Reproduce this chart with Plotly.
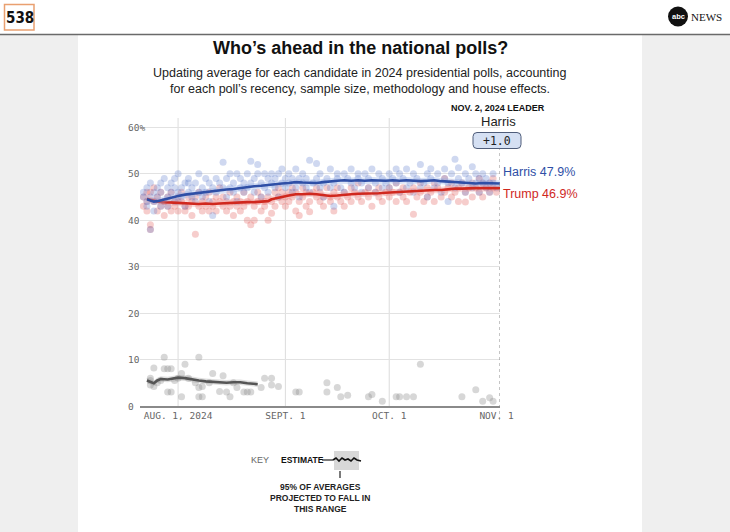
import pandas as pd
import plotly.graph_objects as go

# ---------------- data ----------------
# day offsets are days relative to Aug. 1, 2024
harris_avg = [(-9, 44.5), (-8, 44.2), (-7, 44.0), (-6, 44.1), (-5, 44.3), (-3, 44.6), (-1, 45.0), (0, 45.2),
              (2, 45.5), (4, 45.7), (6, 45.9), (8, 46.0), (10, 46.2), (12, 46.4), (14, 46.6), (16, 46.7),
              (18, 46.9), (20, 47.2), (22, 47.3), (24, 47.4), (26, 47.6), (28, 47.8), (30, 47.9), (32, 48.0),
              (34, 48.2), (36, 48.1), (38, 48.0), (40, 48.0), (42, 48.2), (44, 48.4), (46, 48.5), (48, 48.6),
              (50, 48.5), (52, 48.6), (54, 48.5), (56, 48.6), (58, 48.5), (60, 48.5), (62, 48.6), (64, 48.5),
              (66, 48.6), (68, 48.5), (70, 48.4), (72, 48.5), (74, 48.6), (76, 48.4), (78, 48.3), (80, 48.1),
              (82, 48.0), (84, 48.0), (86, 47.9), (88, 48.0), (90, 47.9), (93, 47.9)]
trump_avg = [(-9, 44.6), (-8, 44.4), (-7, 44.2), (-6, 44.0), (-4, 43.9), (-2, 43.8), (0, 43.7), (2, 43.6),
             (4, 43.6), (6, 43.5), (8, 43.6), (10, 43.5), (12, 43.6), (14, 43.7), (16, 43.8), (18, 43.8),
             (20, 43.9), (22, 43.9), (24, 44.0), (26, 44.1), (27, 44.5), (28, 44.7), (30, 45.0), (32, 45.3),
             (34, 45.6), (36, 45.6), (38, 45.7), (40, 45.6), (42, 45.4), (44, 45.2), (46, 45.3), (48, 45.5),
             (50, 45.6), (52, 45.7), (54, 45.7), (56, 45.8), (58, 45.8), (60, 45.9), (62, 46.0), (64, 46.0),
             (66, 46.1), (68, 46.2), (70, 46.3), (72, 46.4), (74, 46.5), (76, 46.5), (78, 46.7), (80, 46.8),
             (82, 46.8), (84, 46.9), (86, 46.9), (88, 46.9), (90, 46.9), (93, 46.9)]
rfk_avg = [(-9, 5.5), (-8, 5.2), (-7, 4.9), (-6, 5.5), (-5, 5.8), (-3, 5.7), (-1, 5.9), (0, 6.1), (2, 6.0),
           (4, 5.7), (6, 5.5), (8, 5.3), (10, 5.2), (12, 5.1), (14, 5.0), (16, 5.1), (18, 5.1), (20, 4.9),
           (22, 4.8), (23, 4.7)]

harris_polls = [(-10, 45), (-10, 46), (-9, 44), (-9, 47), (-9, 43), (-8, 45), (-8, 38), (-8, 48), (-7, 46), (-7, 44),
                (-7, 42), (-6, 47), (-6, 45), (-5, 43), (-5, 48), (-5, 46), (-4, 44), (-4, 49), (-3, 45), (-3, 47),
                (-3, 43), (-2, 48), (-2, 46), (-1, 44), (-1, 47), (-1, 49),
                (0, 50), (0, 46), (0, 44), (1, 47), (1, 45), (2, 48), (2, 43), (3, 48), (3, 46), (3, 49), (4, 45),
                (4, 47), (5, 48), (5, 44), (6, 50), (6, 46), (7, 47), (7, 45), (8, 49), (8, 46), (9, 44), (9, 48),
                (10, 41), (10, 47), (11, 49), (11, 46), (12, 48), (13, 52.5), (13, 47), (14, 45), (14, 49), (15, 50),
                (15, 47), (16, 46), (16, 48), (17, 50), (17, 44), (18, 49), (18, 47), (19, 48), (19, 46), (20, 50),
                (20, 47), (21, 52.7), (21, 48), (22, 49), (22, 46), (23, 52), (23, 50), (24, 48), (24, 45), (25, 50),
                (25, 47), (26, 49), (26, 46), (27, 48), (27, 50), (28, 47), (28, 49), (29, 45), (29, 50), (30, 48),
                (30, 51), (31, 47), (31, 49),
                (32, 48), (32, 50), (33, 46), (33, 49), (34, 51), (34, 47), (35, 49), (35, 45), (36, 48), (36, 50),
                (37, 47), (37, 49), (38, 52.9), (38, 46), (39, 48), (40, 52.2), (40, 49), (41, 47), (41, 50),
                (42, 45), (42, 48), (43, 49), (44, 51), (44, 47), (45, 43), (45, 48), (46, 50), (46, 49), (47, 47),
                (48, 50), (48, 46), (49, 49), (50, 48), (50, 51), (51, 47), (52, 49), (52, 50), (53, 46), (53, 48),
                (54, 50), (55, 49), (55, 47), (56, 51), (57, 48), (57, 46), (58, 50), (59, 49), (59, 47), (60, 48),
                (61, 50), (61, 47), (62, 49), (63, 51), (63, 48), (64, 46), (64, 50), (65, 49), (66, 47), (66, 51),
                (67, 48), (68, 50), (68, 46), (69, 49), (70, 47), (70, 52), (71, 48), (72, 50), (72, 45), (73, 49),
                (73, 51.1), (74, 47), (75, 48), (75, 50), (76, 46), (77, 49), (77, 51), (78, 44), (78, 48), (79, 50),
                (80, 53.1), (80, 47), (81, 49), (81, 51.3), (82, 48), (83, 46), (83, 50), (84, 49), (85, 51.5),
                (85, 47), (86, 48), (86, 50), (87, 46), (87, 49), (88, 48), (88, 50), (89, 47), (89, 49), (90, 48),
                (90, 46), (91, 50), (91, 48), (92, 47)]
trump_polls = [(-10, 45), (-10, 43), (-9, 46), (-9, 44), (-9, 42), (-8, 39), (-8, 38), (-8, 46), (-7, 44), (-7, 47),
               (-6, 42), (-6, 45), (-5, 43), (-5, 46), (-4, 44), (-4, 41), (-3, 45), (-3, 43), (-2, 42), (-2, 46),
               (-1, 44), (-1, 43),
               (0, 42), (0, 45), (1, 44), (1, 46), (2, 43), (2, 42), (3, 45), (3, 43), (4, 44), (4, 41), (5, 37),
               (5, 45), (6, 43), (6, 46), (7, 42), (7, 44), (8, 45), (8, 43), (9, 42), (9, 46), (10, 44), (10, 43),
               (11, 45), (11, 42), (12, 44), (12, 47), (13, 43), (13, 45), (14, 42), (14, 44), (15, 46), (15, 43),
               (16, 44), (16, 41), (17, 45), (17, 43), (18, 44), (18, 42), (19, 46), (19, 43), (20, 44), (20, 40),
               (21, 39), (21, 45), (22, 40), (22, 43), (23, 44), (23, 46), (24, 42), (24, 45), (25, 44), (25, 43),
               (26, 40), (26, 45), (27, 41.5), (27, 44), (28, 46), (28, 43), (29, 45), (29, 47), (30, 44), (30, 46),
               (31, 45), (31, 43),
               (32, 46), (32, 44), (33, 45), (33, 47), (34, 42), (34, 46), (35, 44), (35, 41), (36, 45), (36, 47),
               (37, 43), (37, 46), (38, 44), (38, 41.8), (39, 46), (40, 45), (40, 47), (41, 44), (41, 46), (42, 45),
               (42, 43), (43, 47), (44, 45), (44, 44), (45, 46), (45, 42), (46, 45), (46, 47), (47, 44), (48, 46),
               (48, 43), (49, 45), (50, 47), (50, 44), (51, 46), (52, 45), (52, 48), (53, 44), (54, 46), (55, 45),
               (55, 47), (56, 43), (57, 46), (58, 45), (58, 47), (59, 44), (60, 46),
               (61, 47), (61, 45), (62, 46), (63, 44), (63, 48), (64, 46), (65, 45), (65, 47), (66, 44), (67, 46),
               (68, 41.3), (68, 47), (69, 45), (70, 46), (70, 48), (71, 44), (72, 47), (72, 45), (73, 46), (74, 48),
               (74, 44), (75, 47), (76, 45), (77, 46), (77, 49), (78, 47), (79, 45), (79, 48), (80, 46), (81, 47),
               (81, 44), (82, 48), (83, 46), (83, 43.9), (84, 47), (85, 45), (85, 48), (86, 47), (87, 46), (87, 49),
               (88, 48), (88, 45), (89, 47), (90, 46), (90, 48), (91, 47), (91, 49), (92, 46)]
rfk_polls = [(-8, 5.5), (-8, 6), (-8, 4.5), (-7, 4.2), (-7, 8.2), (-6, 5), (-5, 5.5), (-4, 10.5), (-4, 8),
             (-3, 8), (-3, 3), (-2, 8), (-2, 3), (-1, 5.5), (0, 6), (1, 7), (1, 2), (2, 9), (3, 6), (5, 5),
             (6, 10.5), (6, 2), (7, 2), (6, 4), (7, 4.2), (9, 5), (10, 7), (12, 3.1), (13, 6.5), (14, 3), (15, 2),
             (16, 5), (17, 4), (19, 3), (20, 3), (21, 3), (24, 4), (25, 6), (27, 6), (27, 4.5), (29, 4.2),
             (34, 3), (35, 3), (43, 5), (43, 3), (46, 4), (47, 2), (49, 2.3), (55, 2), (56, 2.5), (59, 1),
             (63, 2), (64, 2), (66, 2), (68, 2), (70, 9), (82, 2), (86, 3.5), (88, 1), (90, 1.8), (91, 1)]

band_halfwidth = {"Harris": 0.7, "Trump": 0.7, "Kennedy": 0.6}
leader_date = "2024-11-02"
leader_name = "Harris"
leader_margin = "+1.0"
end_labels = [("Harris", 47.9), ("Trump", 46.9)]

x_tick_dates = ["2024-08-01", "2024-09-01", "2024-10-01", "2024-11-01"]
x_tick_text = ["AUG. 1, 2024", "SEPT. 1", "OCT. 1", "NOV. 1"]
y_tick_vals = [0, 10, 20, 30, 40, 50, 60]
y_tick_text = ["0", "10", "20", "30", "40", "50", "60%"]

# ---------------- helpers ----------------
W, H = 730, 532
L, R, T, B = 140, 500, 118, 406
BASE = pd.Timestamp("2024-08-01")


def px(x):
    return (x - L) / (R - L)


def py(y):
    return (B - y) / (B - T)


def dates(days):
    return [BASE + pd.Timedelta(days=v) for v in days]


def split(pairs):
    return dates([p[0] for p in pairs]), [p[1] for p in pairs]


MONO = "DejaVu Sans Mono"
SANS = "Liberation Sans"

BLUE = "#2f4fa6"
RED = "#d0281e"
GRAY = "#555555"

fig = go.Figure()

# poll dots
for pairs, col in [(rfk_polls, "rgba(140,140,140,0.35)"),
                   (trump_polls, "rgba(225,90,85,0.3)"),
                   (harris_polls, "rgba(95,125,205,0.3)")]:
    xs, ys = split(pairs)
    fig.add_trace(go.Scatter(x=xs, y=ys, mode="markers",
                             marker=dict(size=7, color=col, line=dict(width=0)),
                             hoverinfo="skip"))

# bands + lines
for pairs, name, band_col, line_col in [(rfk_avg, "Kennedy", "rgba(150,150,150,0.3)", GRAY),
                                         (trump_avg, "Trump", "rgba(240,150,145,0.35)", RED),
                                         (harris_avg, "Harris", "rgba(150,175,230,0.35)", BLUE)]:
    xs, ys = split(pairs)
    w = band_halfwidth[name]
    fig.add_trace(go.Scatter(x=xs + xs[::-1], y=[v + w for v in ys] + [v - w for v in ys[::-1]],
                             fill="toself", fillcolor=band_col, line=dict(width=0),
                             mode="lines", hoverinfo="skip"))
    fig.add_trace(go.Scatter(x=xs, y=ys, mode="lines",
                             line=dict(color=line_col, width=2.6), hoverinfo="skip"))

shapes = []
# page background pieces
shapes.append(dict(type="rect", xref="paper", yref="paper", x0=px(0), x1=px(W), y0=py(0), y1=py(34),
                   fillcolor="white", line=dict(width=0), layer="below"))
shapes.append(dict(type="rect", xref="paper", yref="paper", x0=px(78), x1=px(642), y0=py(35), y1=py(H),
                   fillcolor="white", line=dict(width=0), layer="below"))
shapes.append(dict(type="line", xref="paper", yref="paper", x0=px(0), x1=px(W), y0=py(34.5), y1=py(34.5),
                   line=dict(color="#6a6a6a", width=1.5)))
# 538 logo box
shapes.append(dict(type="rect", xref="paper", yref="paper", x0=px(4.5), x1=px(34), y0=py(4.5), y1=py(30),
                   fillcolor="white", line=dict(color="#e9a070", width=1.5)))
# abc circle
shapes.append(dict(type="circle", xref="paper", yref="paper", x0=px(668), x1=px(688), y0=py(6.5), y1=py(26.5),
                   fillcolor="#111", line=dict(width=0)))
# vertical gridlines (first three ticks)
for dstr in x_tick_dates[:3]:
    shapes.append(dict(type="line", xref="x", yref="paper", x0=dstr, x1=dstr, y0=0, y1=1,
                       line=dict(color="#dcdcdc", width=1), layer="below"))
# leader dotted line
shapes.append(dict(type="line", xref="x", yref="paper", x0=leader_date, x1=leader_date,
                   y0=py(420), y1=py(148), line=dict(color="#8a8a8a", width=1, dash="dot")))
# leader box (rounded)
bx0, bx1, by0, by1, r = 473, 521, 132.5, 148.5, 4
path = (f"M {px(bx0 + r)} {py(by0)} L {px(bx1 - r)} {py(by0)} Q {px(bx1)} {py(by0)} {px(bx1)} {py(by0 + r)} "
        f"L {px(bx1)} {py(by1 - r)} Q {px(bx1)} {py(by1)} {px(bx1 - r)} {py(by1)} "
        f"L {px(bx0 + r)} {py(by1)} Q {px(bx0)} {py(by1)} {px(bx0)} {py(by1 - r)} "
        f"L {px(bx0)} {py(by0 + r)} Q {px(bx0)} {py(by0)} {px(bx0 + r)} {py(by0)} Z")
shapes.append(dict(type="path", xref="paper", yref="paper", path=path,
                   fillcolor="#d5e0f3", line=dict(color="#4f5d7a", width=1)))
# key icon
shapes.append(dict(type="rect", xref="paper", yref="paper", x0=px(334), x1=px(359), y0=py(451), y1=py(470),
                   fillcolor="#d8d8d8", line=dict(width=0)))
shapes.append(dict(type="line", xref="paper", yref="paper", x0=px(322), x1=px(333), y0=py(460), y1=py(460),
                   line=dict(color="#222", width=1.2)))
wig = [(333, 460), (336, 458), (339, 461), (342, 458), (345, 460), (348, 459), (351, 461), (354, 458), (357, 460), (361, 461)]
wpath = "M " + " L ".join(f"{px(a)} {py(b)}" for a, b in wig)
shapes.append(dict(type="path", xref="paper", yref="paper", path=wpath, line=dict(color="#111", width=1.6)))
shapes.append(dict(type="line", xref="paper", yref="paper", x0=px(340), x1=px(340), y0=py(471), y1=py(478),
                   line=dict(color="#222", width=1.2)))

ann = []


def text(x, y, s, size, color="#222", family=SANS, xanchor="center", bold=False, yanchor="middle"):
    ann.append(dict(xref="paper", yref="paper", x=px(x), y=py(y), text=s, showarrow=False,
                    xanchor=xanchor, yanchor=yanchor,
                    font=dict(size=size, color=color, family=family, weight=700 if bold else 400)))


text(19.5, 17.5, "538", 15, "#111", "DejaVu Sans Condensed", bold=True)
text(678, 16.5, "abc", 7.5, "white", SANS, bold=True)
text(689, 16.5, "NEWS", 11, "#111", "Liberation Serif", xanchor="left")
text(360, 48, "Who\u2019s ahead in the national polls?", 18, "#111", SANS, bold=True)
text(360, 73, "Updating average for each candidate in 2024 presidential polls, accounting", 12.5, "#222")
text(360, 89, "for each poll\u2019s recency, sample size, methodology and house effects.", 12.5, "#222")
text(498, 108, "NOV. 2, 2024 LEADER", 9, "#111", SANS, bold=True)
text(498, 122, leader_name, 13, "#222")
text(497, 141, leader_margin, 11.5, "#222", MONO)
for (name, val), col, yy in zip(end_labels, [BLUE, RED], [172, 194]):
    text(501, yy, f"{name} {val}%", 12.5, col, xanchor="left")
text(249, 460, "KEY", 9, "#666", xanchor="left")
text(279, 460, "ESTIMATE", 8.5, "#111", xanchor="left", bold=True)
text(320, 487, "95% OF AVERAGES", 8.5, "#222", bold=True)
text(320, 498, "PROJECTED TO FALL IN", 8.5, "#222", bold=True)
text(320, 509, "THIS RANGE", 8.5, "#222", bold=True)

for v, s in zip(y_tick_vals, y_tick_text):
    ann.append(dict(xref="paper", yref="y", x=px(126), y=v, text=s, showarrow=False, xanchor="left",
                    yanchor="middle", font=dict(size=9.5, color="#666", family=MONO)))

fig.update_layout(
    width=W, height=H,
    margin=dict(l=L, r=W - R, t=T, b=H - B, autoexpand=False),
    paper_bgcolor="#efefef", plot_bgcolor="white",
    showlegend=False,
    shapes=shapes, annotations=ann,
    xaxis=dict(type="date", range=["2024-07-21", "2024-11-02"], showgrid=False, zeroline=False,
               tickvals=x_tick_dates, ticktext=x_tick_text, ticks="",
               tickfont=dict(family=MONO, size=9.5, color="#666"),
               showline=True, linecolor="#8a8a8a", linewidth=1.5),
    yaxis=dict(range=[0, 62], tickvals=y_tick_vals, showticklabels=False, ticks="",
               showgrid=True, gridcolor="#e2e2e2", gridwidth=1, zeroline=False),
)

fig.write_html("out.html", config={"displayModeBar": False},
               post_script="document.body.style.margin='0';document.body.style.overflow='hidden';")
